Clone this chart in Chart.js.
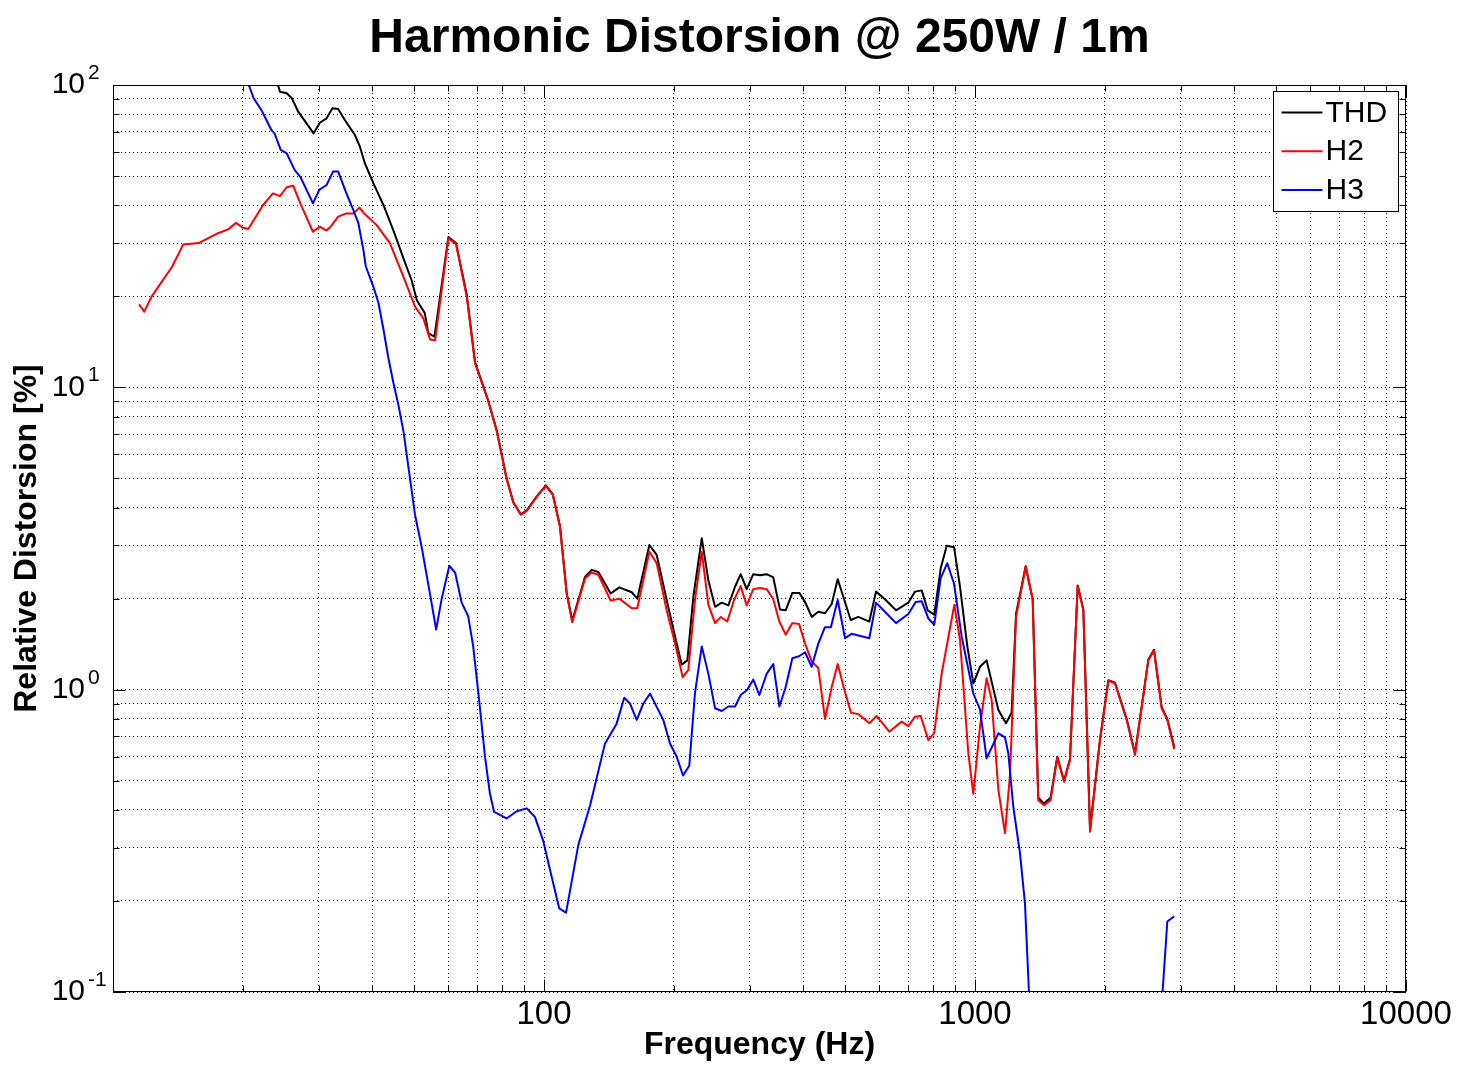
<!DOCTYPE html>
<html>
<head>
<meta charset="utf-8">
<script src="https://cdn.jsdelivr.net/npm/chart.js@4/dist/chart.umd.min.js"></script>
<style>
  html, body { margin: 0; padding: 0; background: #ffffff; }
  #wrap { width: 1467px; height: 1083px; }
</style>
</head>
<body>
<div id="wrap"><canvas id="c" width="1467" height="1083"></canvas></div>
<script>
// ---------- DATA ----------
const chartTitle = 'Harmonic Distorsion @ 250W / 1m';
const xAxisTitle = 'Frequency (Hz)';
const yAxisTitle = 'Relative Distorsion [%]';
const seriesLabels = ['THD', 'H2', 'H3'];
const seriesColors = ['#000000', '#ff0000', '#0000ff'];

const thdFreq = [23.6,24.4,25.3,26.0,26.9,27.6,29.2,30.2,31.3,32.3,33.3,34.5,36.4,37.4,38.4,40.2,42.4,44.7,47.2,49.3,50.7,52.9,53.9,55.7,60.0,62.5,66.2,69.2,74.3,77.7,81.9,84.9,88.4,91.2,96.2,101,104.8,108.9,112.9,116.3,124.5,129,133.7,142.8,149.5,159.8,164.6,175.6,182.6,192.6,201.4,208.7,215.1,222.1,232.3,240.6,249.4,258.5,267.7,277.5,286,295.3,305.9,317.1,328.7,340.4,352.8,363.7,376.9,391.3,403.4,417.9,432.9,448.7,465.1,480.2,494.8,514.8,536.1,568.6,589.3,618.3,655.7,700.3,725.8,752.2,776.7,804.5,832.6,859.9,894.1,923,960,991,1027,1064,1133,1180,1216,1245,1311,1361,1402,1446,1498,1552,1609,1661,1731,1784,1849,1950,2039,2112,2249,2351,2524,2602,2711,2794,2900];
const thdVal  = [112,95,93.9,90.4,81.6,77.6,69.2,75,77.6,83.7,83.3,76.6,68.4,62.5,55.1,47.3,40.1,33.1,26.7,22.6,19.4,17.6,15.1,14.7,31.4,30.0,20.2,12.1,9.0,7.2,5.0,4.17,3.8,3.92,4.36,4.74,4.43,3.48,2.09,1.69,2.36,2.49,2.45,2.08,2.18,2.1,2.0,3.01,2.79,1.98,1.5,1.21,1.25,2.03,3.17,2.3,1.88,1.94,1.90,2.19,2.41,2.15,2.41,2.39,2.41,2.35,1.84,1.83,2.09,2.09,1.95,1.74,1.81,1.79,1.92,2.32,2.03,1.70,1.74,1.68,2.11,1.99,1.83,1.94,2.11,2.13,1.83,1.77,2.52,2.99,2.96,2.19,1.39,1.05,1.19,1.25,0.856,0.774,0.839,1.78,2.56,1.99,0.44,0.42,0.44,0.60,0.50,0.59,2.21,1.84,0.345,0.685,1.075,1.055,0.80,0.615,1.255,1.355,0.875,0.80,0.645];

const h2Freq = [11.49,11.82,12.3,13.7,14.56,15.8,17.4,18.5,19.3,20.0,20.6,22.3,23.5,24.4,25.3,26.2,27.2,29.1,30.2,31.3,32.0,33.3,34.8,36.1,37.3,38.1,40.9,43.9,47.2,50.2,52.5,54.4,55.9,60.0,62.5,66.2,69.2,74.3,77.7,81.9,84.9,88.4,91.2,96.2,101,104.8,108.9,112.9,116.3,124.5,129,133.7,142.8,149.5,159.8,164.6,175.6,182.6,192.6,201.4,209.8,216.2,224,232.3,240.6,249.4,257.2,266.2,276,286,295.3,305.9,317.1,328.7,340.4,351.6,363.7,376.9,390.6,403.4,417.9,432.9,448.7,465.1,480.2,497.6,515.6,536.1,568.6,591.4,632.6,675.8,700.3,725.8,748.2,779.4,804.5,836.8,895.5,923,965,991,1027,1064,1093,1133,1174,1206,1245,1311,1361,1402,1446,1498,1552,1609,1661,1731,1784,1849,1950,2039,2112,2249,2351,2524,2602,2711,2794,2900];
const h2Val  = [18.8,17.8,20.0,25.0,29.7,30.0,32.2,33.3,35.0,33.7,33.4,40.1,43.8,42.9,45.9,46.4,40.6,32.7,34.0,33.0,34.0,36.7,37.6,37.6,39.3,37.8,34.4,30.0,23.2,18.5,16.9,14.4,14.3,31.1,29.8,19.9,12.0,8.98,7.15,4.97,4.15,3.79,3.90,4.34,4.72,4.41,3.46,2.07,1.67,2.33,2.44,2.40,1.97,2.0,1.86,1.86,2.86,2.62,1.83,1.42,1.10,1.16,1.98,2.86,1.91,1.66,1.74,1.68,1.98,2.20,1.90,2.15,2.17,2.15,1.99,1.68,1.52,1.66,1.65,1.42,1.24,1.18,0.80,1.02,1.215,1.0,0.839,0.83,0.774,0.818,0.726,0.784,0.758,0.814,0.818,0.681,0.72,1.13,1.91,1.46,0.615,0.452,0.754,1.09,0.924,0.466,0.335,0.528,1.74,2.55,1.98,0.431,0.415,0.431,0.597,0.496,0.585,2.20,1.83,0.339,0.68,1.07,1.05,0.793,0.608,1.25,1.35,0.867,0.793,0.635];

const h3Freq = [19.8,21.2,22.1,22.7,23.3,23.7,24.5,25.3,26.4,27.2,29.1,30.1,31.3,32.4,33.3,34.8,36.1,37.1,38.1,38.6,40.2,41.3,42.4,43.5,44.7,45.9,47.2,48.9,50.2,52.0,54.4,56.2,57.9,60.3,62.2,64.4,66.7,68.5,70.4,73.0,74.9,76.6,81.9,86.4,91.2,95.3,99.6,104.2,108.5,112.5,120.1,127.9,138.5,147.4,153.5,158.3,164.1,170,176.2,189.2,196,203.2,210.2,217.3,224,232.3,240.6,249.4,258.5,267.7,277.5,286,296.2,305.9,316,328.7,340.4,351.6,363.7,376.9,390.6,403.4,417.9,432.9,448.7,463,480.2,499.4,517.3,536.1,568.6,589.3,613.2,655.7,700.3,728.5,752.2,779.4,804.5,832.6,862.3,894.1,931.2,991,1027,1064,1133,1174,1195,1227,1272,1306,1334,1380,1500,2000,2600,2724,2794,2900];
const h3Val  = [118,90.4,82.6,76.6,71,69.2,61,59.4,52.3,49.7,40.6,45,46.7,51.7,51.7,43.8,38.6,34.9,28.5,25.1,21.5,19.0,15.6,12.6,10.4,8.8,7.15,4.97,3.79,2.97,2.07,1.58,2.0,2.57,2.44,1.94,1.75,1.39,0.98,0.597,0.454,0.394,0.375,0.396,0.405,0.379,0.316,0.24,0.189,0.183,0.306,0.414,0.663,0.772,0.94,0.9,0.795,0.9,0.97,0.793,0.664,0.60,0.52,0.56,0.972,1.39,1.13,0.868,0.85,0.88,0.88,0.96,1.0,1.08,0.96,1.13,1.215,0.88,1.02,1.27,1.29,1.33,1.19,1.42,1.61,1.61,1.98,1.48,1.53,1.51,1.48,1.94,1.83,1.66,1.78,1.95,1.96,1.72,1.64,2.34,2.62,2.24,1.50,0.97,0.86,0.593,0.717,0.695,0.615,0.41,0.287,0.196,0.10,0.05,0.03,0.02,0.04,0.1,0.171,0.178];

const xRange = [10, 10000];
const yRange = [0.1, 100];
const xLabeledTicks = [100, 1000, 10000];
const yLabeledTicks = [0.1, 1, 10, 100];
const yTickBase = '10';
const yTickExponents = ['-1', '0', '1', '2'];

// ---------- helpers ----------
const FONT = "'Liberation Sans', Arial, Helvetica, sans-serif";
function sameLog(a, b) { return Math.abs(Math.log10(a) - Math.log10(b)) < 1e-6; }
function isIn(list, v) { return list.some(t => sameLog(t, v)); }
function keep1to9(scale) {
  scale.ticks = scale.ticks.filter(t => {
    const e = Math.floor(Math.log10(t.value) + 1e-9);
    const s = t.value / Math.pow(10, e);
    return Math.abs(s - Math.round(s)) < 1e-6 && Math.round(s) >= 1 && Math.round(s) <= 9;
  });
}
function pts(fs, vs) { return fs.map((f, i) => ({x: f, y: vs[i]})); }
function isDecade(v) { const l = Math.log10(v); return Math.abs(l - Math.round(l)) < 1e-6; }

// ---------- plugins ----------
const bgPlugin = {
  id: 'bg',
  beforeDraw(chart) {
    const c = chart.ctx;
    c.save(); c.fillStyle = '#ffffff'; c.fillRect(0, 0, chart.width, chart.height); c.restore();
  }
};

const framePlugin = {
  id: 'frameTicks',
  afterDatasetsDraw(chart) {
    const c = chart.ctx, a = chart.chartArea;
    const xs = chart.scales.x, ys = chart.scales.y;
    const L = Math.round(a.left) + 0.5, R = Math.round(a.right) - 0.5;
    const T = Math.round(a.top) + 0.5, B = Math.round(a.bottom) - 0.5;
    c.save();
    c.strokeStyle = '#000'; c.lineWidth = 1; c.setLineDash([]);
    c.beginPath();
    xs.ticks.forEach(t => {
      const len = isDecade(t.value) ? 12 : 6;
      const px = Math.round(xs.getPixelForValue(t.value)) + 0.5;
      c.moveTo(px, B); c.lineTo(px, B - len);
      c.moveTo(px, T); c.lineTo(px, T + len);
    });
    ys.ticks.forEach(t => {
      const len = isDecade(t.value) ? 12 : 6;
      const py = Math.round(ys.getPixelForValue(t.value)) + 0.5;
      c.moveTo(L, py); c.lineTo(L + len, py);
      c.moveTo(R, py); c.lineTo(R - len, py);
    });
    c.stroke();
    c.strokeRect(L, T, R - L, B - T);
    c.restore();
  }
};

// exponents of the y tick labels (10^n), written as raised smaller text
const exponentPlugin = {
  id: 'exponents',
  afterDraw(chart) {
    const c = chart.ctx, ys = chart.scales.y;
    c.save();
    c.font = '21px ' + FONT;
    c.fillStyle = '#000';
    c.textAlign = 'left';
    c.textBaseline = 'alphabetic';
    yLabeledTicks.forEach((v, i) => {
      const py = ys.getPixelForValue(v);
      c.fillText(yTickExponents[i], ys.right - 25, py - 6);
    });
    c.restore();
  }
};

const legendBoxPlugin = {
  id: 'legendBox',
  afterDraw(chart) {
    const c = chart.ctx, a = chart.chartArea;
    const boxR = a.right - 7.5, boxT = a.top + 6.5, boxW = 125, boxH = 120;
    const boxL = boxR - boxW;
    c.save();
    c.fillStyle = '#ffffff';
    c.fillRect(boxL, boxT, boxW, boxH);
    c.strokeStyle = '#000'; c.lineWidth = 1;
    c.strokeRect(boxL, boxT, boxW, boxH);
    c.font = '30px ' + FONT;
    c.textBaseline = 'middle'; c.textAlign = 'left';
    chart.data.datasets.forEach((ds, i) => {
      const y = boxT + 21 + i * 38.7;
      c.strokeStyle = ds.borderColor; c.lineWidth = 2;
      c.beginPath(); c.moveTo(boxL + 8, y); c.lineTo(boxL + 49, y); c.stroke();
      c.fillStyle = '#000';
      c.fillText(ds.label, boxL + 52, y + 1);
    });
    c.restore();
  }
};

// ---------- chart ----------
const datasets = [
  {label: seriesLabels[0], data: pts(thdFreq, thdVal), borderColor: seriesColors[0], order: 3},
  {label: seriesLabels[1], data: pts(h2Freq, h2Val), borderColor: seriesColors[1], order: 2},
  {label: seriesLabels[2], data: pts(h3Freq, h3Val), borderColor: seriesColors[2], order: 1}
].map(d => Object.assign(d, {borderWidth: 2, pointRadius: 0, tension: 0, fill: false, clip: 0, borderJoinStyle: 'round'}));

new Chart(document.getElementById('c'), {
  type: 'line',
  data: {datasets},
  options: {
    responsive: false,
    animation: false,
    events: [],
    layout: {padding: {left: 0, right: 61, top: 0, bottom: 0}},
    plugins: {
      legend: {display: false},
      tooltip: {enabled: false},
      title: {
        display: true, text: chartTitle, color: '#000', fullSize: false,
        font: {family: FONT, size: 48, weight: 'bold', lineHeight: 1.2},
        padding: {top: 10, bottom: 17.4}
      }
    },
    scales: {
      x: {
        type: 'logarithmic', position: 'bottom', min: xRange[0], max: xRange[1],
        afterBuildTicks: keep1to9,
        afterFit(s) { s.height = 91; },
        grid: {color: '#000', lineWidth: 1, drawTicks: false},
        border: {display: false, dash: [1, 3]},
        ticks: {
          autoSkip: false, maxRotation: 0, minRotation: 0, padding: 3, color: '#000',
          font: {family: FONT, size: 33},
          callback: (v) => isIn(xLabeledTicks, v) ? String(Math.round(v)) : ''
        },
        title: {display: true, text: xAxisTitle, color: '#000',
          font: {family: FONT, size: 32, weight: 'bold'}, padding: {top: 0, bottom: 19}}
      },
      y: {
        type: 'logarithmic', position: 'left', min: yRange[0], max: yRange[1],
        afterBuildTicks: keep1to9,
        afterFit(s) { s.width = 113; },
        grid: {color: '#000', lineWidth: 1, drawTicks: false},
        border: {display: false, dash: [1, 3]},
        ticks: {
          autoSkip: false, padding: 28, color: '#000',
          font: {family: FONT, size: 30},
          callback: (v) => isIn(yLabeledTicks, v) ? yTickBase : ''
        },
        title: {display: true, text: yAxisTitle, color: '#000',
          font: {family: FONT, size: 32, weight: 'bold'}, padding: {top: 8, bottom: 0}}
      }
    }
  },
  plugins: [bgPlugin, framePlugin, exponentPlugin, legendBoxPlugin]
});
</script>
</body>
</html>
